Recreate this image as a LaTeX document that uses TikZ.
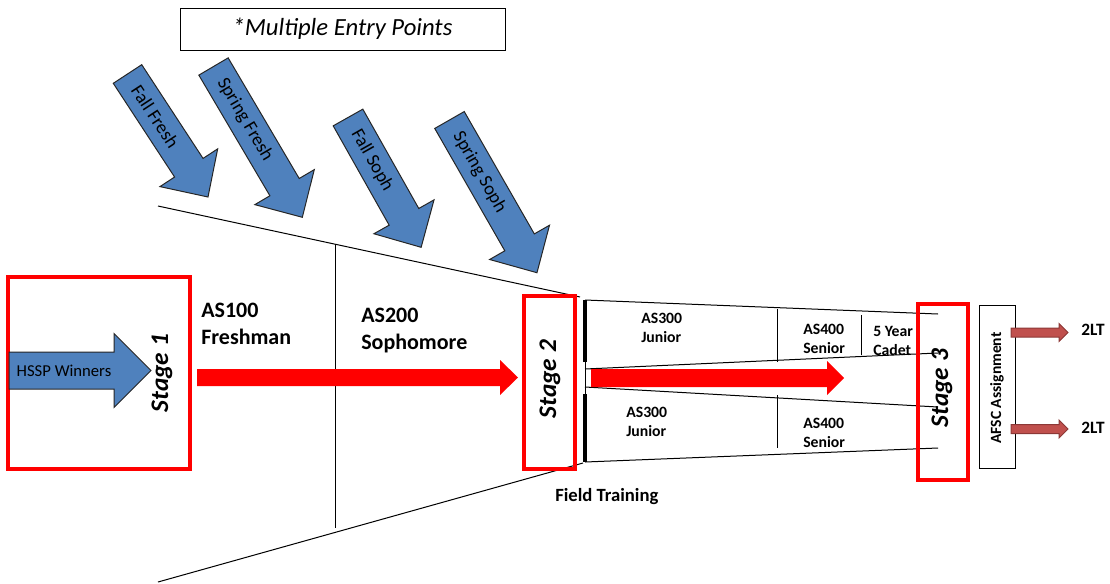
\documentclass[tikz,border=0pt]{standalone}
\usepackage{fontspec}
\setmainfont{Carlito}
\usetikzlibrary{fit}

\definecolor{entryblue}{HTML}{4F81BD}
\definecolor{afscfill}{HTML}{C0504D}
\definecolor{afscedge}{HTML}{8C3836}

\tikzset{
  stagebox/.style={draw=red, line width=3pt, inner sep=0pt},
  stagetext/.style={rotate=90, inner sep=0pt, font=\fontsize{19}{23}\selectfont\bfseries\itshape},
  yeartext/.style={align=left, inner sep=0pt, anchor=west, font=\fontsize{16.5}{20.25}\selectfont\bfseries},
  classtext/.style={align=left, inner sep=0pt, anchor=west, font=\fontsize{11.8}{14}\selectfont\bfseries},
  entryarrow/.style={fill=entryblue, draw=black!85, line width=0.75pt},
  entrytext/.style={inner sep=0pt, font=\fontsize{14}{16}\selectfont},
  redarrow/.style={fill=red},
  afscarrow/.style={fill=afscfill, draw=afscedge, line width=0.75pt},
  funnel/.style={line width=0.75pt},
  bar/.style={line width=3pt},
}

% horizontal block arrow: style, tail x, head x, tip x, mid y, shaft half, head half
\newcommand{\harrow}[7]{%
  \path[#1] (#2,#5-#6) -- (#3,#5-#6) -- (#3,#5-#7) -- (#4,#5) -- (#3,#5+#7) -- (#3,#5+#6) -- (#2,#5+#6) -- cycle;}

% entry arrow: name, tail, angle below horizontal, length, text
\newcommand{\entry}[5]{%
  \begin{scope}[shift={#2}, rotate=-#3]
    \harrow{entryarrow}{0}{#4-35}{#4}{0}{17}{34.5}
    \node[entrytext, rotate=-#3, anchor=west] (#1) at (15,0) {#5};
  \end{scope}}

\begin{document}
\begin{tikzpicture}[x=0.75pt, y=-0.75pt]
  \useasboundingbox (0,0) rectangle (1110,583);

  % note
  \node[draw, funnel, inner sep=0pt, fit={(180,8) (505,50)}] (note) {};
  \node[font=\fontsize{18.5}{22}\selectfont\itshape] (notetext) at (note.center) {*Multiple Entry Points};

  % entry points
  \entry{fallfresh}{(127.5,74)}{56.8}{147}{Fall Fresh}
  \entry{springfresh}{(213.5,66.5)}{59.5}{175}{Spring Fresh}
  \entry{fallsoph}{(348,117.5)}{60.6}{149}{Fall Soph}
  \entry{springsoph}{(449.5,120)}{60.2}{176}{Spring Soph}

  % funnel
  \coordinate (upa) at (158,206);
  \coordinate (upb) at (580,297);
  \coordinate (loa) at (158,582);
  \coordinate (lob) at (583,463);
  \coordinate (divtop) at (335,244);
  \coordinate (divbot) at (335,528);
  \draw[funnel] (upa) -- (upb);
  \draw[funnel] (loa) -- (lob);
  \draw[funnel] (divtop) -- (divbot);

  % stage 1
  \node[stagebox, fit={(8,277) (190,469)}] (stage1) {};
  \harrow{entryarrow}{9}{114}{151}{370.5}{18.5}{37}
  \node[inner sep=0pt, font=\fontsize{12.5}{15}\selectfont] (hssp) at (64,370.5) {HSSP Winners};
  \node[stagetext] (stage1lbl) at (162,373) {Stage 1};

  \node[yeartext] (as100) at (201,324) {AS100\\Freshman};
  \node[yeartext] (as200) at (361,331) {AS200\\Sophomore};
  \harrow{redarrow}{197}{500}{518}{377.5}{8.5}{17.5}

  % stage 2
  \node[stagebox, fit={(524,296) (575,469)}] (stage2) {};
  \node[stagetext] (stage2lbl) at (550,379) {Stage 2};
  \node[inner sep=0pt, anchor=base west, font=\fontsize{14}{17}\selectfont\bfseries] (field) at (555,501) {Field Training};

  % field training split
  \draw[bar] (585,300) -- (585,362);
  \draw[bar] (585,394) -- (585,462);
  \draw[funnel] (585,362) -- (585,394);
  \draw[funnel] (585,300) -- (938,314);
  \draw[funnel] (585,369) -- (938,353);
  \draw[funnel] (585,387) -- (938,407);
  \draw[funnel] (585,462) -- (938,448);
  \draw[funnel] (777,309) -- (777,362);
  \draw[funnel] (861,315) -- (861,355);
  \draw[funnel] (777,395) -- (777,448);
  \harrow{redarrow}{591}{827}{844}{378}{9}{17}

  \node[classtext] (jr1) at (641,328) {AS300\\Junior};
  \node[classtext] (sr1) at (803,339) {AS400\\Senior};
  \node[classtext] (cadet) at (873,341) {5 Year\\Cadet};
  \node[classtext] (jr2) at (626,422) {AS300\\Junior};
  \node[classtext] (sr2) at (803,433) {AS400\\Senior};

  % stage 3
  \node[stagebox, fit={(918,304) (968,480)}] (stage3) {};
  \node[stagetext] (stage3lbl) at (942,388) {Stage 3};

  \node[draw, funnel, inner sep=0pt, fit={(979,305) (1015,468)}] (afsc) {};
  \node[rotate=90, inner sep=0pt, font=\fontsize{11.7}{14}\selectfont\bfseries] (afsclbl) at (997,388) {AFSC Assignment};

  \harrow{afscarrow}{1011}{1059}{1068}{332.5}{4.5}{9}
  \harrow{afscarrow}{1011}{1059}{1068}{429}{4.5}{9}
  \node[inner sep=0pt, anchor=west, font=\fontsize{13}{16}\selectfont\bfseries] (lt1) at (1081,330) {2LT};
  \node[inner sep=0pt, anchor=west, font=\fontsize{13}{16}\selectfont\bfseries] (lt2) at (1081,428) {2LT};
\end{tikzpicture}
\end{document}
